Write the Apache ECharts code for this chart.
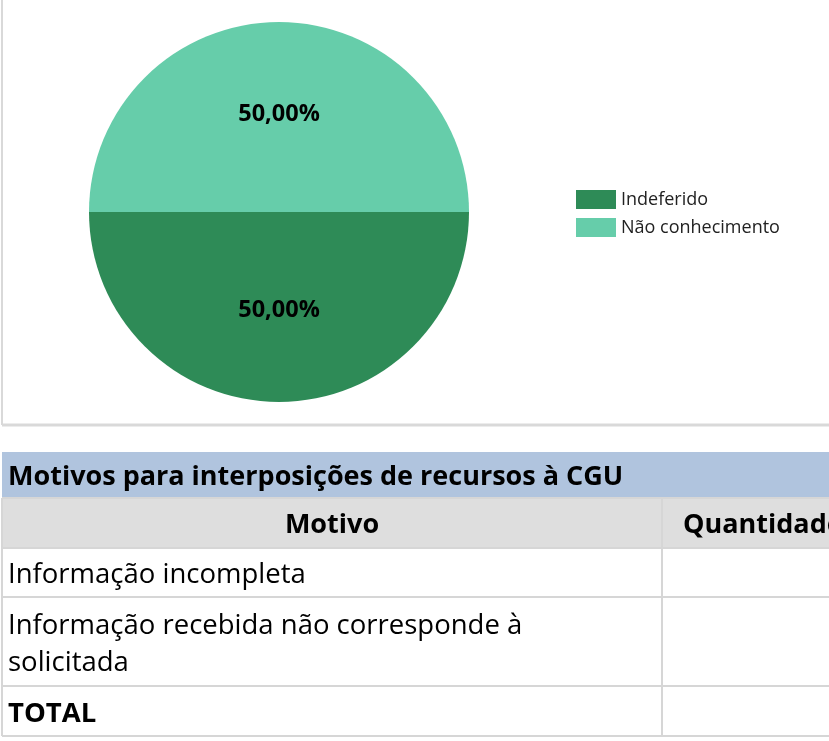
<!DOCTYPE html>
<html>
<head>
<meta charset="utf-8">
<script src="https://cdn.jsdelivr.net/npm/echarts@6/dist/echarts.min.js"></script>
<style>
  html, body { margin: 0; padding: 0; background: #fff; }
  #main { width: 829px; height: 741px; }
</style>
</head>
<body>
<div id="main"></div>
<script>
// pie data
const categories = ['Indeferido', 'Não conhecimento'];
const values = [1, 1];
const colors = ['#2e8b57', '#66cdaa'];

// table below the chart
const tableTitle = 'Motivos para interposições de recursos à CGU';
const tableHeader = ['Motivo', 'Quantidade'];
const tableRows = [
  ['Informação incompleta'],
  ['Informação recebida não corresponde à', 'solicitada'],
  ['TOTAL']
];

const font = '"Open Sans", "Noto Sans", sans-serif';
const lineColor = '#d6d6d6';

let myChart = echarts.init(document.getElementById('main'));

function txt(x, y, t, size, bold, align) {
  return {
    type: 'text', x: x, y: y,
    style: {
      text: t, fontFamily: font, fontSize: size, fontWeight: bold ? 'bold' : 'normal',
      fill: '#000', align: align || 'left', verticalAlign: 'middle'
    }
  };
}

// build table graphics
let g = [];
// chart frame
g.push({ type: 'line', shape: { x1: 2, y1: 0, x2: 2, y2: 425 }, style: { stroke: '#d9d9d9', lineWidth: 2 } });
g.push({ type: 'line', shape: { x1: 2, y1: 425, x2: 829, y2: 425 }, style: { stroke: '#d9d9d9', lineWidth: 3 } });

// title band
g.push({ type: 'rect', shape: { x: 2, y: 452, width: 827, height: 46 }, style: { fill: '#b0c4de' } });
g.push(txt(8, 477, tableTitle, 27, true));

// header row
g.push({ type: 'rect', shape: { x: 2, y: 499, width: 827, height: 49 }, style: { fill: '#dedede' } });
g.push(txt(332, 525, tableHeader[0], 27, true, 'center'));
g.push(txt(683, 525, tableHeader[1], 27, true));

// body rows
const rowTops = [548, 597, 686, 736];
tableRows.forEach((lines, i) => {
  let top = rowTops[i], bottom = rowTops[i + 1];
  let bold = i === tableRows.length - 1;
  let lh = 37;
  let start = (top + bottom) / 2 + 3 - (lines.length - 1) * lh / 2;
  lines.forEach((t, j) => {
    g.push(txt(8, start + j * lh, t, 27.5, bold));
  });
});

// grid lines
[498, 548, 597, 686, 736].forEach(y => {
  g.push({ type: 'line', shape: { x1: 2, y1: y, x2: 829, y2: y }, style: { stroke: lineColor, lineWidth: 2 } });
});
g.push({ type: 'line', shape: { x1: 2, y1: 498, x2: 2, y2: 736 }, style: { stroke: lineColor, lineWidth: 2 } });
g.push({ type: 'line', shape: { x1: 662, y1: 498, x2: 662, y2: 736 }, style: { stroke: lineColor, lineWidth: 2 } });

let option = {
  animation: false,
  backgroundColor: '#fff',
  color: colors,
  legend: {
    orient: 'vertical',
    left: 571,
    top: 185,
    itemWidth: 40,
    itemHeight: 19,
    itemGap: 9,
    icon: 'rect',
    data: categories,
    textStyle: { fontFamily: font, fontSize: 18, color: '#222' }
  },
  series: [{
    type: 'pie',
    center: [279, 212],
    radius: 190,
    startAngle: 0,
    clockwise: true,
    label: {
      position: 'inside',
      fontFamily: font,
      fontSize: 23.5,
      fontWeight: 'bold',
      color: '#000',
      formatter: p => p.percent.toFixed(2).replace('.', ',') + '%'
    },
    labelLine: { show: false },
    emphasis: { disabled: true },
    data: categories.map((c, i) => ({ name: c, value: values[i] }))
  }],
  graphic: g
};

myChart.setOption(option);
</script>
</body>
</html>
